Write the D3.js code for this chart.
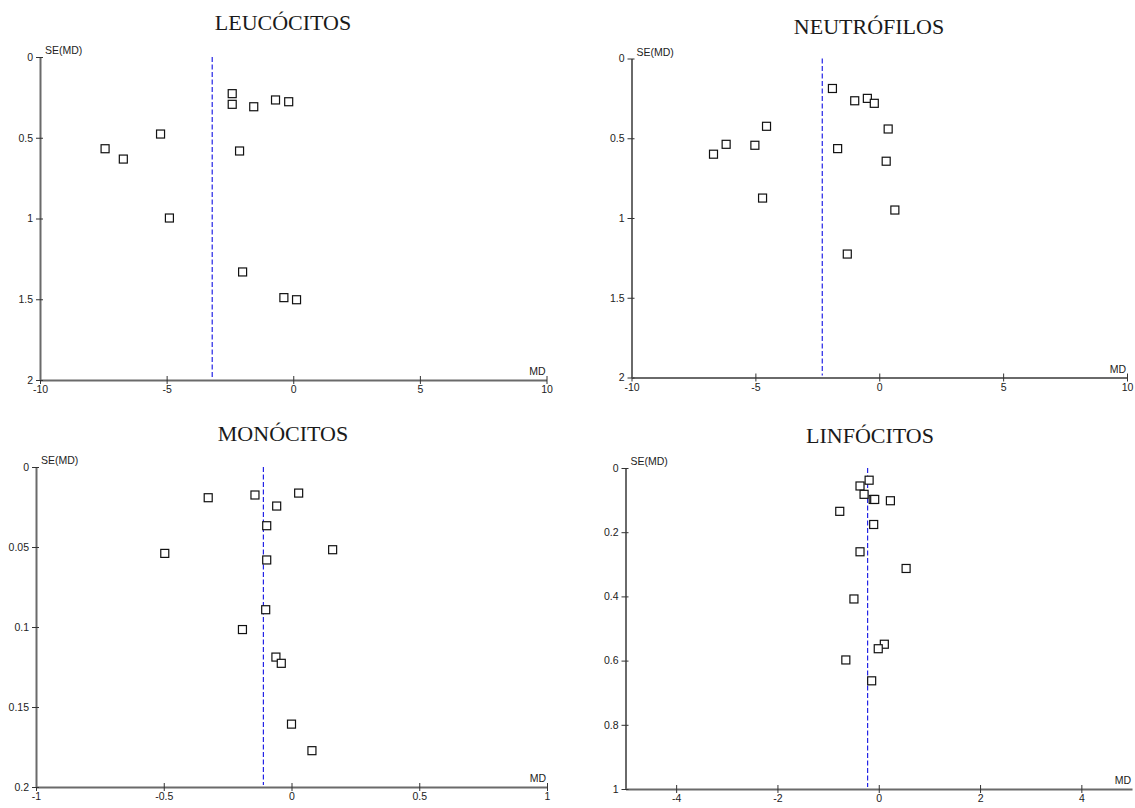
<!DOCTYPE html>
<html>
<head>
<meta charset="utf-8">
<script src="https://cdn.jsdelivr.net/npm/d3@7"></script>
<style>
  body { margin: 0; background: #fff; }
  .title { font-family: "Liberation Serif", serif; font-size: 22px; fill: #1a1a1a; }
  .tick text, .lab { font-family: "Liberation Sans", Arial, sans-serif; font-size: 10.5px; fill: #222; }
</style>
</head>
<body>
<div id="vis"></div>
<script>
/* funnel plots, 4 panels */

const FRAME_WIDTH = 1135;
const FRAME_HEIGHT = 808;

// LEUCÓCITOS
const leucoMD = [-2.41, -2.41, -1.56, -0.70, -0.18, -5.24, -7.43, -6.71, -2.12, -4.89, -2.00, -0.37, 0.13];
const leucoSE = [0.227, 0.293, 0.308, 0.266, 0.277, 0.477, 0.568, 0.632, 0.582, 0.997, 1.331, 1.490, 1.503];
const leucoPooled = -3.2;

// NEUTRÓFILOS
const neutroMD = [-1.89, -0.99, -0.48, -0.20, 0.36, -4.55, -6.18, -6.69, -5.02, -1.68, 0.28, -4.71, 0.63, -1.29];
const neutroSE = [0.188, 0.265, 0.250, 0.281, 0.442, 0.425, 0.538, 0.600, 0.544, 0.565, 0.644, 0.875, 0.950, 1.226];
const neutroPooled = -2.3;

// MONÓCITOS
const monoMD = [-0.326, -0.143, 0.028, -0.058, -0.097, -0.496, 0.161, -0.097, -0.101, -0.192, -0.061, -0.040, 0.000, 0.080];
const monoSE = [0.0192, 0.0175, 0.0163, 0.0244, 0.0367, 0.0540, 0.0517, 0.0581, 0.0892, 0.1016, 0.1188, 0.1227, 0.1607, 0.1773];
const monoPooled = -0.11;

// LINFÓCITOS
const linfoMD = [-0.19, -0.37, -0.29, -0.11, -0.08, 0.23, -0.77, -0.10, -0.37, 0.54, -0.49, 0.11, -0.01, -0.65, -0.14];
const linfoSE = [0.038, 0.056, 0.082, 0.098, 0.098, 0.102, 0.135, 0.176, 0.261, 0.313, 0.408, 0.549, 0.563, 0.598, 0.663];
const linfoPooled = -0.22;

// axis ticks
const xTicksWide = [-10, -5, 0, 5, 10];
const yTicksWide = [0, 0.5, 1, 1.5, 2];
const xTicksMono = [-1, -0.5, 0, 0.5, 1];
const yTicksMono = [0, 0.05, 0.1, 0.15, 0.2];
const xTicksLinfo = [-4, -2, 0, 2, 4];
const yTicksLinfo = [0, 0.2, 0.4, 0.6, 0.8, 1];

const titles = ["LEUCÓCITOS", "NEUTRÓFILOS", "MONÓCITOS", "LINFÓCITOS"];

const PANELS = [
  {title: titles[0], md: leucoMD, se: leucoSE, pooled: leucoPooled, xTicks: xTicksWide, yTicks: yTicksWide,
   xDom: [-10, 10], yDom: [0, 2], left: 40, right: 546.5, top: 57, bottom: 380, tx: 283, ty: 30},
  {title: titles[1], md: neutroMD, se: neutroSE, pooled: neutroPooled, xTicks: xTicksWide, yTicks: yTicksWide,
   xDom: [-10, 10], yDom: [0, 2], left: 631.5, right: 1127, top: 58.5, bottom: 377.5, tx: 869, ty: 34},
  {title: titles[2], md: monoMD, se: monoSE, pooled: monoPooled, xTicks: xTicksMono, yTicks: yTicksMono,
   xDom: [-1, 1], yDom: [0, 0.2], left: 36, right: 547, top: 467, bottom: 787, tx: 283, ty: 441},
  {title: titles[3], md: linfoMD, se: linfoSE, pooled: linfoPooled, xTicks: xTicksLinfo, yTicks: yTicksLinfo,
   xDom: [-5, 5], yDom: [0, 1], left: 625.5, right: 1132, top: 468, bottom: 789, tx: 870, ty: 443}
];

const AXIS_COLOR = "#6a6a6a";
const SQ = 8;

const FRAME =
d3.select("#vis")
  .append("svg")
    .attr("width", FRAME_WIDTH)
    .attr("height", FRAME_HEIGHT);

PANELS.forEach((p) => {

  const X_SCALE = d3.scaleLinear().domain(p.xDom).range([p.left, p.right]);
  const Y_SCALE = d3.scaleLinear().domain(p.yDom).range([p.top, p.bottom]);

  const g = FRAME.append("g");

  // title
  g.append("text")
    .attr("class", "title")
    .attr("x", p.tx)
    .attr("y", p.ty)
    .attr("text-anchor", "middle")
    .text(p.title);

  // x axis
  const xAxis = g.append("g")
    .attr("transform", "translate(0," + p.bottom + ")")
    .call(d3.axisBottom(X_SCALE)
      .tickValues(p.xTicks)
      .tickSize(4)
      .tickSizeOuter(0)
      .tickPadding(2)
      .tickFormat((d) => String(d)));

  xAxis.select(".domain").attr("stroke", AXIS_COLOR).attr("stroke-width", 2);
  xAxis.selectAll(".tick line").attr("y1", -4).attr("stroke", "#333");

  // y axis
  const yAxis = g.append("g")
    .attr("transform", "translate(" + p.left + ",0)")
    .call(d3.axisLeft(Y_SCALE)
      .tickValues(p.yTicks)
      .tickSize(4)
      .tickSizeOuter(0)
      .tickPadding(3)
      .tickFormat((d) => String(d)));

  yAxis.select(".domain").attr("stroke", AXIS_COLOR).attr("stroke-width", 2);
  yAxis.selectAll(".tick line").attr("x1", 3).attr("stroke", "#333");

  // axis names
  g.append("text")
    .attr("class", "lab")
    .attr("x", p.left + 5)
    .attr("y", p.top - 3)
    .text("SE(MD)");

  g.append("text")
    .attr("class", "lab")
    .attr("x", p.right - 1)
    .attr("y", p.bottom - 5)
    .attr("text-anchor", "end")
    .text("MD");

  // pooled estimate
  g.append("line")
    .attr("x1", X_SCALE(p.pooled))
    .attr("x2", X_SCALE(p.pooled))
    .attr("y1", Y_SCALE(p.yDom[0]))
    .attr("y2", Y_SCALE(p.yDom[1]) - 2)
    .attr("stroke", "#2424e6")
    .attr("stroke-width", 1.2)
    .attr("stroke-dasharray", "5,2.5");

  // studies
  const pts = p.md.map((m, i) => ({md: m, se: p.se[i]}));

  g.selectAll("points")
    .data(pts)
    .enter()
    .append("rect")
      .attr("x", (d) => X_SCALE(d.md) - SQ / 2)
      .attr("y", (d) => Y_SCALE(d.se) - SQ / 2)
      .attr("width", SQ)
      .attr("height", SQ)
      .attr("fill", "white")
      .attr("stroke", "#111")
      .attr("stroke-width", 1.2);
});
</script>
</body>
</html>
